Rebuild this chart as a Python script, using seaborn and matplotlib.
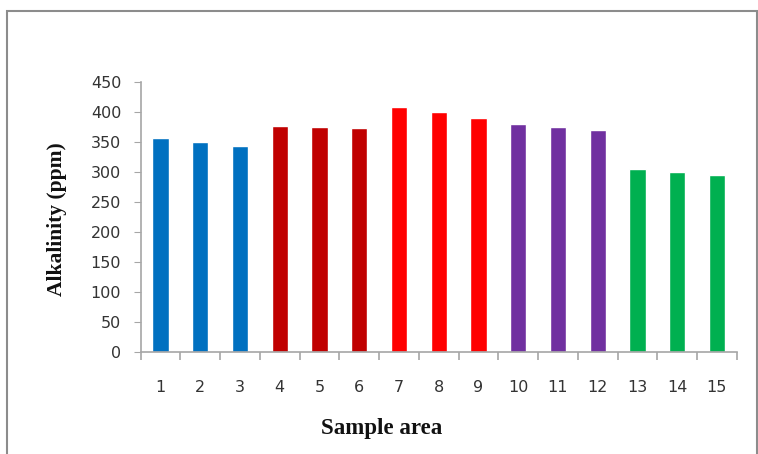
import matplotlib
matplotlib.use("Agg")
import matplotlib.pyplot as plt
from matplotlib.patches import Rectangle
from matplotlib.ticker import MultipleLocator, FixedLocator
import seaborn as sns
import pandas as pd

# data
sample_area = [str(i) for i in range(1, 16)]
alkalinity = [356, 350, 343, 376, 375, 373, 409, 400, 390, 380, 375, 370, 305, 300, 295]
bar_colors = ["#0070C0"] * 3 + ["#C00000"] * 3 + ["#FF0000"] * 3 + ["#7030A0"] * 3 + ["#00B050"] * 3

df = pd.DataFrame({"Sample area": sample_area, "Alkalinity": alkalinity})

sns.set_style("white")
fig = plt.figure(figsize=(7.58, 4.54), dpi=100)
ax = fig.add_axes([0.1856, 0.2254, 0.7864, 0.594])

sns.barplot(data=df, x="Sample area", y="Alkalinity", hue="Sample area",
            palette=bar_colors, legend=False, width=0.41, saturation=1, ax=ax)

ax.set_ylim(0, 450)
ax.set_xlim(-0.5, 14.5)
ax.yaxis.set_major_locator(MultipleLocator(50))

for s in ["top", "right"]:
    ax.spines[s].set_visible(False)
for s in ["left", "bottom"]:
    ax.spines[s].set_color("#A6A6A6")
    ax.spines[s].set_linewidth(1.2)

ax.tick_params(axis="y", which="major", left=True, length=5, color="#A6A6A6",
               labelsize=11.5, labelcolor="#333333", pad=9)
ax.tick_params(axis="x", which="major", bottom=False, labelsize=11.5,
               labelcolor="#333333", pad=17)
ax.xaxis.set_minor_locator(FixedLocator([i - 0.5 for i in range(16)]))
ax.tick_params(axis="x", which="minor", bottom=True, length=6, color="#A6A6A6", width=1.2)

ax.set_xlabel("Sample area", fontsize=16.5, fontweight="bold",
              family="Liberation Serif", color="#111111")
ax.set_ylabel("Alkalinity (ppm)", fontsize=15.5, fontweight="bold",
              family="Liberation Serif", color="#111111")
ax.xaxis.set_label_coords(0.405, -0.245)
ax.yaxis.set_label_coords(-0.124, 0.49)

# outer chart border
fig.patches.append(Rectangle((7 / 758, -0.01), 750 / 758, 1 - 11 / 454 + 0.01,
                             transform=fig.transFigure, fill=False,
                             edgecolor="#8C8C8C", linewidth=1.5))

fig.savefig("out.png", dpi=100)
